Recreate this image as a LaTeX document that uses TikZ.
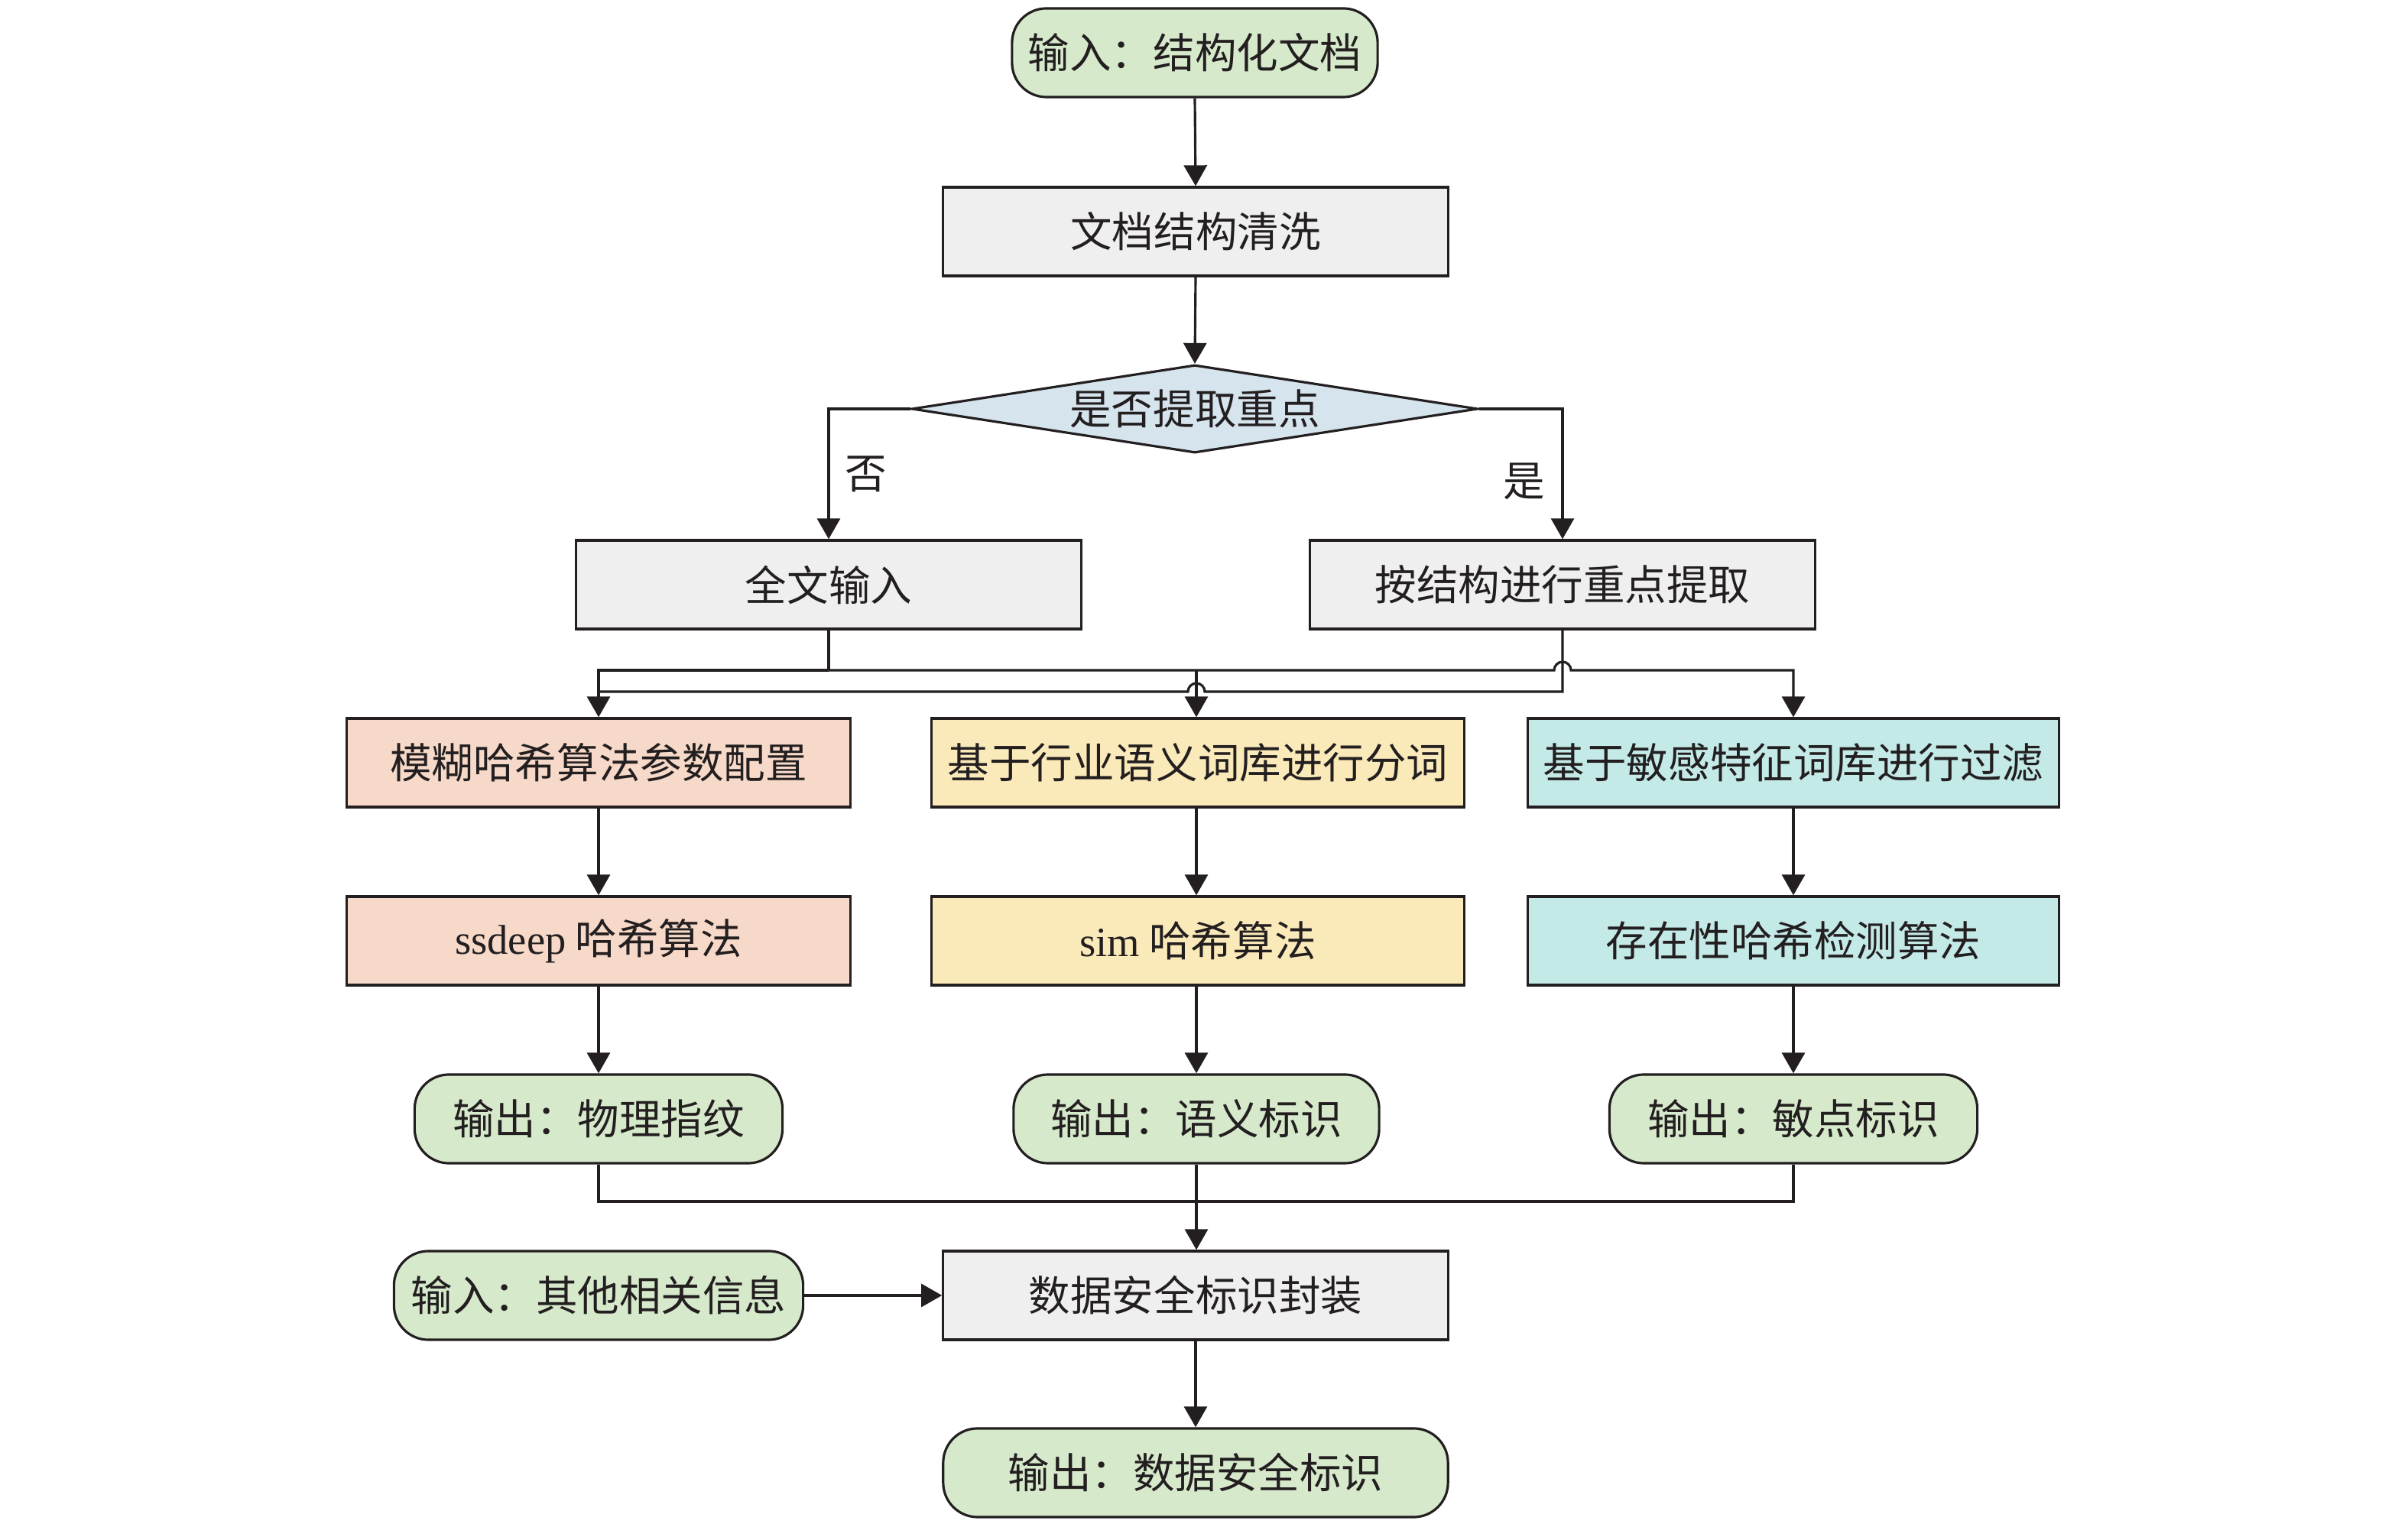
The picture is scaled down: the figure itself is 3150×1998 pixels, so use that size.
\documentclass[tikz,border=0pt]{standalone}
\usepackage{fontspec}
\setmainfont{Liberation Serif}
\newfontfamily\cjk{Noto Sans CJK SC}
\usetikzlibrary{shapes.geometric,arrows.meta,calc}
\definecolor{linec}{RGB}{35,31,32}
\definecolor{greenf}{RGB}{214,233,203}
\definecolor{grayf}{RGB}{239,239,239}
\definecolor{bluef}{RGB}{214,228,238}
\definecolor{salmonf}{RGB}{246,217,200}
\definecolor{yellowf}{RGB}{250,233,185}
\definecolor{cyanf}{RGB}{196,234,232}
\tikzset{
  base/.style={draw=linec, line width=0.9pt, text=linec, font=\cjk\fontsize{15.5}{18}\selectfont, inner sep=0pt, minimum height=1.16cm},
  proc/.style={base, rectangle, fill=grayf, minimum width=6.6cm},
  term/.style={base, rectangle, rounded corners=0.45cm, fill=greenf},
  dec/.style={base, diamond, aspect=6.4, fill=bluef, minimum width=7.4cm, minimum height=1.15cm},
  conn/.style={draw=linec, line width=0.9pt},
  arr/.style={conn, -{Triangle[length=0.27cm, width=0.3cm]}},
  lab/.style={font=\cjk\fontsize{15.5}{18}\selectfont, text=linec}
}
\begin{document}
\begin{tikzpicture}[x=0.01cm, y=-0.01cm]
\useasboundingbox (0,0) rectangle (3150,1998);
% nodes
\node[term, minimum width=4.78cm] (in1) at (1563,69) {输入：结构化文档};
\node[proc] (clean) at (1564,303) {文档结构清洗};
\node[dec] (dec) at (1563,535) {是否提取重点};
\node[proc, minimum width=6.61cm] (full) at (1084,765) {全文输入};
\node[proc, minimum width=6.61cm] (key) at (2044,765) {按结构进行重点提取};
\node[base, fill=salmonf, minimum width=6.59cm] (a1) at (783,998) {模糊哈希算法参数配置};
\node[base, fill=yellowf, minimum width=6.97cm] (b1) at (1567,998) {基于行业语义词库进行分词};
\node[base, fill=cyanf, minimum width=6.95cm] (c1) at (2346,998) {基于敏感特征词库进行过滤};
\node[base, fill=salmonf, minimum width=6.59cm] (a2) at (783,1231) {{\rmfamily ssdeep} 哈希算法};
\node[base, fill=yellowf, minimum width=6.97cm] (b2) at (1567,1231) {{\rmfamily sim} 哈希算法};
\node[base, fill=cyanf, minimum width=6.95cm] (c2) at (2346,1231) {存在性哈希检测算法};
\node[term, minimum width=4.81cm] (a3) at (783,1464) {输出：物理指纹};
\node[term, minimum width=4.78cm] (b3) at (1565,1464) {输出：语义标识};
\node[term, minimum width=4.81cm] (c3) at (2346,1464) {输出：敏点标识};
\node[proc] (pack) at (1564,1695) {数据安全标识封装};
\node[term, minimum width=5.35cm] (other) at (783,1695) {输入：其他相关信息};
\node[term, minimum width=6.6cm] (out) at (1564,1927) {输出：数据安全标识};
% helper coordinates
\coordinate (up) at (0,877);
\coordinate (lo) at (0,905);
\coordinate (mg) at (0,1572);
\coordinate (midx) at (1565,0);
% connectors
\draw[arr] (in1.south) -- (clean.north);
\draw[arr] (clean.south) -- (dec.north);
\draw[arr] (dec.west) -| node[lab, pos=0.75, right=0.08cm] (no) {否} (full.north);
\draw[arr] (dec.east) -| node[lab, pos=0.78, left=0.1cm] (yes) {是} (key.north);
% upper bus from full text input
\draw[conn] (full.south) -- (full.south |- up);
\draw[arr] (full.south |- up) -- (a1.north |- up) -- (a1.north);
\draw[arr] (full.south |- up) -- ($(key.south |- up)+(-11,0)$) arc[start angle=180, end angle=0, radius=0.11cm] -- (c1.north |- up) -- (c1.north);
\draw[arr] (midx |- up) -- (midx |- b1.north);
% lower bus from key extraction
\draw[conn] (key.south) -- (key.south |- lo) -- ($(midx |- lo)+(11,0)$) arc[start angle=0, end angle=180, radius=0.11cm] -- (a1.north |- lo);
% columns
\draw[arr] (a1.south) -- (a2.north);
\draw[arr] (midx |- b1.south) -- (midx |- b2.north);
\draw[arr] (c1.south) -- (c2.north);
\draw[arr] (a2.south) -- (a3.north);
\draw[arr] (midx |- b2.south) -- (b3.north);
\draw[arr] (c2.south) -- (c3.north);
% merge
\draw[conn] (a3.south) -- (a3.south |- mg) -- (c3.south |- mg) -- (c3.south);
\draw[arr] (b3.south) -- (b3.south |- pack.north);
\draw[arr] (other.east) -- (pack.west);
\draw[arr] (pack.south) -- (out.north);
\end{tikzpicture}
\end{document}
